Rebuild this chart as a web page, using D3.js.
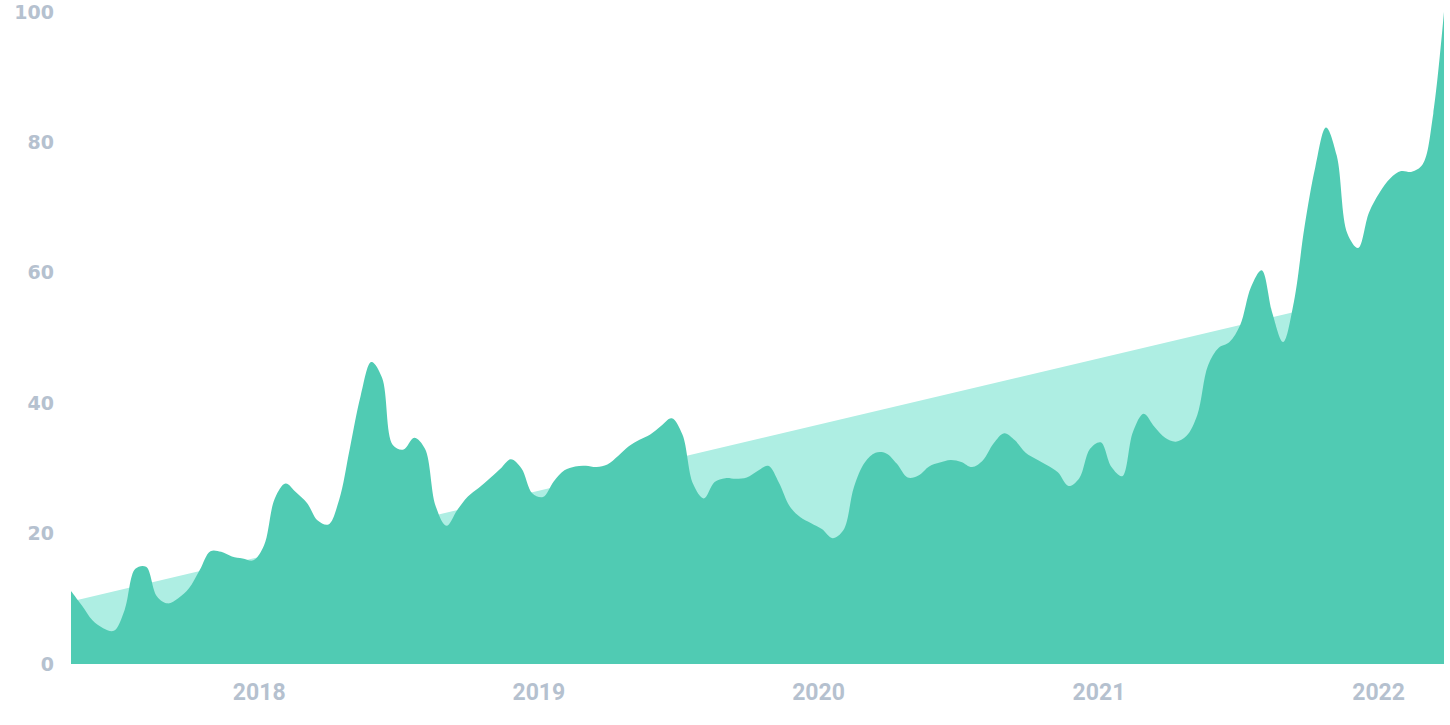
<!DOCTYPE html>
<html>
<head>
<meta charset="utf-8">
<script src="https://cdn.jsdelivr.net/npm/d3@7"></script>
<style>
  html, body { margin: 0; padding: 0; background: #ffffff; }
  svg { display: block; }
</style>
</head>
<body>
<svg id="chart" width="1450" height="725"></svg>
<script>
// ---- data ----
// bi-weekly samples, first one on 2017-05-01
const startDate = "2017-05-01";
const stepDays = 14;
const interest = [
  11.2, 9.0, 6.7, 5.5, 5.1, 8.3, 14.6, 14.9, 10.4, 9.3,
  10.1, 11.6, 14.4, 17.3, 17.2, 16.5, 16.2, 15.9, 18.2, 25.4,
  27.7, 26.3, 24.7, 22.0, 21.4, 25.2, 33.1, 41.1, 46.3, 43.9,
  33.6, 32.9, 34.7, 33.0, 24.2, 21.2, 23.6, 25.7, 27.0, 28.4,
  29.9, 31.4, 30.0, 26.2, 25.6, 28.0, 29.7, 30.3, 30.4, 30.2,
  30.6, 31.9, 33.4, 34.4, 35.2, 36.5, 37.7, 35.2, 27.6, 25.4,
  27.9, 28.5, 28.4, 28.6, 29.6, 30.4, 27.8, 24.2, 22.5, 21.6,
  20.7, 19.3, 20.5, 27.2, 30.9, 32.4, 32.3, 30.7, 28.6, 28.9,
  30.3, 30.9, 31.3, 31.0, 30.2, 31.2, 33.8, 35.4, 34.3, 32.4,
  31.4, 30.5, 29.4, 27.3, 28.5, 33.0, 34.0, 30.2, 28.8, 35.6,
  38.4, 36.4, 34.7, 34.1, 35.0, 38.2, 45.8, 48.5, 49.4, 52.0,
  57.8, 60.4, 53.8, 49.4, 55.5, 67.1, 76.2, 82.3, 78.0, 66.0,
  63.8, 69.2, 72.3, 74.5, 75.6, 75.5, 76.6, 84.4, 100
];
// linear trend: value at first and last sample
const trendValues = [9.6, 59.4];
const yTickValues = [0, 20, 40, 60, 80, 100];
const xTickYears = [2018, 2019, 2020, 2021, 2022];

// ---- build series ----
const parse = d3.timeParse("%Y-%m-%d");
const t0 = parse(startDate);
const series = interest.map((v, i) => ({ date: d3.timeDay.offset(t0, i * stepDays), value: v }));
const tEnd = series[series.length - 1].date;
const trend = [
  { date: t0, value: trendValues[0] },
  { date: tEnd, value: trendValues[1] }
];

// ---- layout ----
const svg = d3.select("#chart");
const x = d3.scaleTime().domain([t0, tEnd]).range([71, 1444]);
const y = d3.scaleLinear().domain([0, 100]).range([664, 12]);

const trendArea = d3.area()
  .x(d => x(d.date))
  .y0(y(0))
  .y1(d => y(d.value));

svg.append("path")
  .datum(trend)
  .attr("d", trendArea)
  .attr("fill", "#aeeee3");

const mainArea = d3.area()
  .curve(d3.curveCatmullRom.alpha(0.5))
  .x(d => x(d.date))
  .y0(y(0))
  .y1(d => y(d.value));

svg.append("path")
  .datum(series)
  .attr("d", mainArea)
  .attr("fill", "#50cbb3");

// ---- axes ----
const yAxis = d3.axisLeft(y)
  .tickValues(yTickValues)
  .tickSize(0)
  .tickPadding(17)
  .tickFormat(d3.format("d"));

const gy = svg.append("g")
  .attr("transform", `translate(${x.range()[0]},0)`)
  .call(yAxis);
gy.select(".domain").remove();
gy.selectAll("text")
  .attr("fill", "#b5c1cf")
  .attr("font-family", "'DejaVu Sans', sans-serif")
  .attr("font-weight", "bold")
  .attr("font-size", "19px");

const xAxis = d3.axisBottom(x)
  .tickValues(xTickYears.map(yr => new Date(yr, 0, 1)))
  .tickSize(0)
  .tickPadding(20)
  .tickFormat(d3.timeFormat("%Y"));

const gx = svg.append("g")
  .attr("transform", `translate(0,${y(0)})`)
  .call(xAxis);
gx.select(".domain").remove();
gx.selectAll("text")
  .attr("fill", "#b5c1cf")
  .attr("font-family", "Roboto, sans-serif")
  .attr("font-weight", "bold")
  .attr("font-size", "23px");
</script>
</body>
</html>
